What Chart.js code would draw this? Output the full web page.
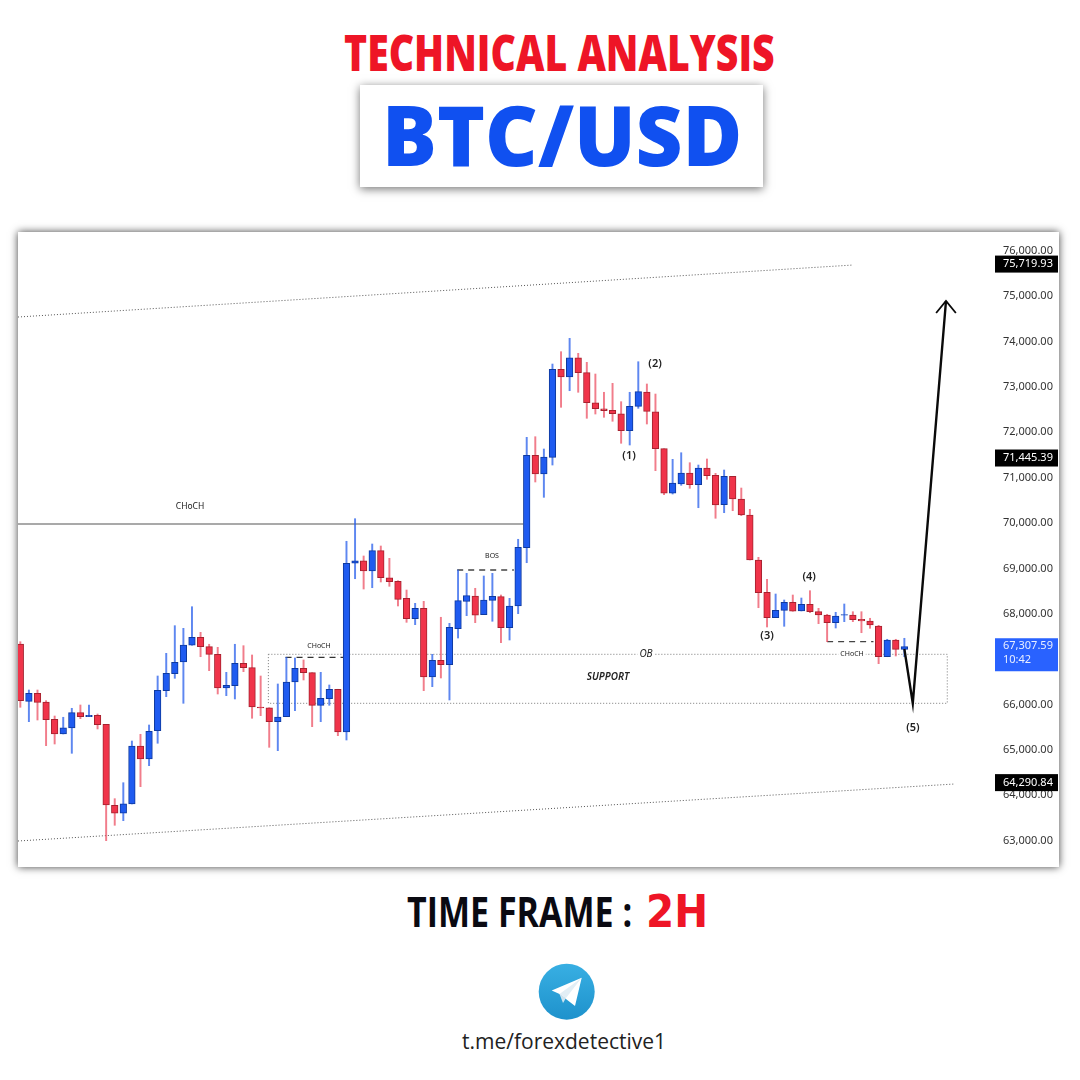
<!DOCTYPE html>
<html>
<head>
<meta charset="utf-8">
<title>BTC/USD</title>
<script src="https://cdn.jsdelivr.net/npm/chart.js@4"></script>
<style>
html, body { margin: 0; padding: 0; background: #fff; }
#page { position: relative; width: 1080px; height: 1080px; overflow: hidden; background: #fff; }
.txt { position: absolute; white-space: nowrap; font-family: "Open Sans", sans-serif; line-height: 1; transform-origin: 0 0; }
#heading { left: 344px; top: 28px; font-size: 49px; font-weight: 800; color: #ee1526; transform: scaleX(0.80); }
#pairBox { position: absolute; left: 360px; top: 85px; width: 403px; height: 102px; background: #fff; box-shadow: 0 2px 9px rgba(0,0,0,.55); }
#pair { left: 382px; top: 92px; font-size: 84px; font-weight: 800; color: #1050f0; transform: scaleX(0.97); }
#frame { left: 407px; top: 890px; font-size: 42px; font-weight: 700; color: #0a0a12; transform: scaleX(0.81); }
#frameVal { left: 646px; top: 889px; font-size: 45px; font-weight: 700; color: #ee1526; font-family: "DejaVu Sans", sans-serif; transform: scaleX(0.9); }
#link { left: 462px; top: 1031px; font-size: 21px; color: #222; }
#panel { position: absolute; left: 18px; top: 232px; width: 1041px; height: 635px; background: #fff; box-shadow: 0 0 8px rgba(0,0,0,.75); }
#tg { position: absolute; left: 530px; top: 955px; }
</style>
</head>
<body>
<div id="page">
  <div class="txt" id="heading">TECHNICAL ANALYSIS</div>
  <div id="pairBox"></div>
  <div class="txt" id="pair">BTC/USD</div>
  <div id="panel"><canvas id="chart1" width="1041" height="635"></canvas></div>
  <div class="txt" id="frame">TIME FRAME :</div>
  <div class="txt" id="frameVal">2H</div>
  <svg id="tg" width="74" height="74" viewBox="530 955 74 74">
    <defs>
      <linearGradient id="tgGrad" x1="0" y1="0" x2="0" y2="1">
        <stop offset="0" stop-color="#38afe3"/>
        <stop offset="1" stop-color="#1e92cc"/>
      </linearGradient>
      <clipPath id="tgClip"><rect x="530" y="962" width="74" height="59"/></clipPath>
    </defs>
    <circle cx="566.7" cy="991.7" r="28" fill="url(#tgGrad)" clip-path="url(#tgClip)"/>
    <polygon points="581.7,977.7 551.7,990.5 559.5,994 575,1006" fill="#fff"/>
    <polygon points="559.5,994 563,1003 566,998" fill="#cfe3ee"/>
    <polygon points="559.5,994 581.7,977.7 566,998" fill="#e2eef5"/>
  </svg>
  <div class="txt" id="link">t.me/forexdetective1</div>
</div>
<script>
var opens = [67335,66072,66249,66057,65676,65352,65484,65821,65733,65764,65565,63780,63604,63809,65087,64801,65424,66306,66681,66939,
  67307,67483,67276,67108,66365,66416,66910,66813,65947,65931,65623,65733,66498,66800,66703,65984,66130,66337,65396,69114,
  69171,68944,69392,68796,68717,68342,67893,68122,66608,66976,66879,67672,68276,68393,67981,68298,68378,67695,68173,69458,
  71494,71082,71450,73390,73220,73645,73315,72653,72521,72486,72411,72036,72574,72889,72455,71640,70657,70862,71104,70846,
  71214,71053,70405,71031,70531,70178,69187,68475,67915,68078,68254,68063,68210,68047,67974,67805,67968,67974,67880,67842,
  67732,67055,67423,67218];
var highs = [67386,66321,66321,66086,65748,65720,65918,65991,65991,65792,65565,63926,64278,65197,65345,65550,66630,67130,67739,67681,
  68157,67593,67329,67262,66711,67329,67298,67093,66630,65931,66454,67042,67027,66983,66703,66711,66432,66337,69599,70097,
  69275,69539,69495,69224,68730,68525,68232,68276,67108,67924,67791,68966,68893,68563,68834,68893,68415,68342,69643,71891,
  71904,71633,73506,73778,74073,73742,73544,73286,72883,73081,72676,72883,73557,73066,72845,71640,71406,71551,71331,71280,
  71413,71097,71170,71031,70773,70304,69246,68761,68437,68305,68415,68349,68510,68122,67990,68034,68217,68047,68047,67902,
  67747,67439,67439,67461];
var lows = [65940,65623,65660,65094,65131,65352,64926,65689,65733,65462,63000,63339,63441,63809,64190,64653,65147,66174,66579,66028,
  67307,67055,66747,66233,66196,66123,66725,65698,65755,65058,64984,65733,65865,66542,65513,65623,65984,65314,65219,68774,
  68547,68576,68702,68607,68173,67813,67761,66306,66394,66586,66101,67467,67959,67805,67981,67836,67364,67423,68003,69127,
  70906,70568,71280,72552,72918,72883,72310,72404,72332,72244,71759,71721,72530,72184,71155,70626,70641,70833,70767,70339,
  70965,70106,70229,70273,70163,69187,68135,67710,67915,67725,68056,68063,68025,67783,67386,67688,67827,67827,67584,67681,
  66901,67055,67071,67055];
var closes = [66086,66249,66050,65667,65352,65490,65821,65733,65764,65557,63787,63604,63815,65087,64801,65411,66315,66689,66932,67313,
  67483,67276,67108,66365,66425,66910,66813,65947,65925,65623,65726,66498,66800,66703,65984,66138,66337,65396,69114,69171,
  68944,69392,68796,68708,68320,67893,68122,66608,66976,66879,67703,68290,68400,67968,68305,68386,67695,68173,69466,71494,
  71082,71457,73390,73220,73645,73315,72653,72521,72477,72411,72036,72574,72896,72464,71640,70657,70884,71104,70846,71214,
  71045,70399,71031,70531,70178,69187,68466,67915,68078,68254,68056,68210,68047,67974,67805,67952,67981,67871,67842,67754,
  67055,67423,67218,67276];

var yTicks = [63000,64000,65000,66000,67000,68000,69000,70000,71000,72000,73000,74000,75000,76000];
var hiddenTicks = [67000];

var tagPrices = [75719.93, 71445.39, 64290.84];
var lastPrice = 67307.59;
var lastCountdown = "10:42";

var channelTop = [[-0.27, 74542], [97, 75688]];
var channelBottom = [[-0.27, 62993], [108.9, 64250]];
var chochLine = [[-0.27, 69980], [58.6, 69980]];
var chochDashLeft = [[30.9, 67042], [37.6, 67042]];
var bosDash = [[50.9, 68966], [57.5, 68966]];
var chochDashRight = [[94, 67386], [99.4, 67386]];
var obZone = [[28.9, 67108], [108, 67108], [108, 66028], [28.9, 66028], [28.9, 67108]];
var forecastPath = [[103, 67225], [103.98, 66028], [107.85, 74895]];
var arrowHead = [[106.7, 74630], [107.85, 74895], [109, 74630]];

var noteTexts = ["CHoCH", "CHoCH", "BOS", "CHoCH", "OB", "SUPPORT", "(1)", "(2)", "(3)", "(4)", "(5)"];
var noteIndex = [19.77, 34.8, 54.96, 96.9, 72.9, 68.47, 70.92, 73.95, 87, 91.9, 104];
var notePrices = [70355, 67302, 69264, 67115, 67115, 66608, 71479, 73518, 67512, 68812, 65484];
var noteFonts = ["8.5px", "7px", "7px", "7px", "italic 10px", "italic 600 10px", "600 11px", "600 11px", "600 11px", "600 11px", "600 11px"];
var noteBacked = [false, false, false, true, true, false, false, false, false, false, false];

var BLUE = "#1f5bf0", BLUE_EDGE = "#0f3a9e", BLUE_WICK = "rgba(40,95,235,0.75)";
var RED = "#f0344a", RED_EDGE = "#a5222f", RED_WICK = "rgba(235,70,90,0.7)";

function toXY(points) {
    return points.map(function (p) { return { x: p[0], y: p[1] }; });
}

function fmt(v) {
    return v.toLocaleString("en-US", { minimumFractionDigits: 2, maximumFractionDigits: 2 });
}

function lineSet(points, color, width, dash) {
    return {
        type: "line",
        data: toXY(points),
        borderColor: color,
        borderWidth: width,
        borderDash: dash || [],
        pointRadius: 0,
        fill: false,
        tension: 0,
        order: 3
    };
}

var up = closes.map(function (c, i) { return c >= opens[i]; });

var overlayPlugin = {
    id: "overlay",
    afterDraw: function (chart) {
        var ctx = chart.ctx, xs = chart.scales.x, ys = chart.scales.y;
        var left = ys.left, right = 1040;
        ctx.save();
        ctx.textBaseline = "middle";

        noteTexts.forEach(function (t, i) {
            var px = xs.getPixelForValue(noteIndex[i]), py = ys.getPixelForValue(notePrices[i]);
            ctx.font = noteFonts[i] + ' "Noto Sans", sans-serif';
            ctx.textAlign = "center";
            if (noteBacked[i]) {
                var w = ctx.measureText(t).width + 4;
                ctx.fillStyle = "#fff";
                ctx.fillRect(px - w / 2, py - 5, w, 10);
            }
            ctx.fillStyle = "#222";
            ctx.fillText(t, px, py);
        });

        ctx.textAlign = "left";
        ctx.font = '11px "Noto Sans", sans-serif';
        tagPrices.forEach(function (p) {
            var py = ys.getPixelForValue(p);
            ctx.fillStyle = "#000";
            ctx.fillRect(left, py - 8, right - left, 17);
            ctx.fillStyle = "#fff";
            ctx.fillText(fmt(p), left + 8, py + 0.5);
        });

        var ly = ys.getPixelForValue(lastPrice);
        ctx.fillStyle = "#2962ff";
        ctx.fillRect(left, ly - 7, right - left, 33);
        ctx.fillStyle = "#e8eeff";
        ctx.fillText(fmt(lastPrice), left + 8, ly + 1);
        ctx.fillText(lastCountdown, left + 8, ly + 15);
        ctx.restore();
    }
};

var ctx = document.getElementById("chart1").getContext("2d");
var myChart = new Chart(ctx, {
    type: "bar",
    plugins: [overlayPlugin],
    data: {
        datasets: [
            Object.assign(lineSet(forecastPath, "#0a0a0a", 2.4), { order: 0 }),
            Object.assign(lineSet(arrowHead, "#0a0a0a", 1.8), { order: 0 }),
            {
                data: opens.map(function (o, i) { return { x: i, y: [o, closes[i]] }; }),
                backgroundColor: up.map(function (u) { return u ? BLUE : RED; }),
                borderColor: up.map(function (u) { return u ? BLUE_EDGE : RED_EDGE; }),
                borderWidth: 1,
                borderSkipped: false,
                barThickness: 6.6,
                grouped: false,
                order: 1
            },
            {
                data: highs.map(function (h, i) { return { x: i, y: [lows[i], h] }; }),
                backgroundColor: up.map(function (u) { return u ? BLUE_WICK : RED_WICK; }),
                borderWidth: 0,
                barThickness: 1.3,
                grouped: false,
                order: 2
            },
            lineSet(channelTop, "#555", 1, [1, 2]),
            lineSet(channelBottom, "#555", 1, [1, 2]),
            lineSet(chochLine, "#555", 1.2),
            lineSet(chochDashLeft, "#333", 1.3, [6, 5]),
            lineSet(bosDash, "#444", 1.3, [6, 5]),
            lineSet(chochDashRight, "#444", 1.3, [6, 5]),
            lineSet(obZone, "#777", 1, [1, 2])
        ]
    },
    options: {
        responsive: false,
        animation: false,
        events: [],
        layout: { padding: 0, autoPadding: false },
        plugins: { legend: { display: false }, tooltip: { enabled: false } },
        scales: {
            x: { type: "linear", display: false, offset: false, min: -0.27, max: 113.56 },
            y: {
                position: "right",
                min: 62420,
                max: 76416,
                grid: { display: false, drawTicks: false },
                border: { display: false },
                afterBuildTicks: function (axis) {
                    axis.ticks = yTicks.map(function (v) { return { value: v }; });
                },
                afterFit: function (axis) {
                    axis.width = 64;
                    axis.paddingTop = 0;
                    axis.paddingBottom = 0;
                },
                ticks: {
                    align: "center",
                    crossAlign: "near",
                    padding: 8,
                    color: "#333",
                    autoSkip: false,
                    font: { family: '"Noto Sans", sans-serif', size: 11 },
                    callback: function (v) {
                        return hiddenTicks.indexOf(v) >= 0 ? "" : fmt(v);
                    }
                }
            }
        }
    }
});
</script>
</body>
</html>
